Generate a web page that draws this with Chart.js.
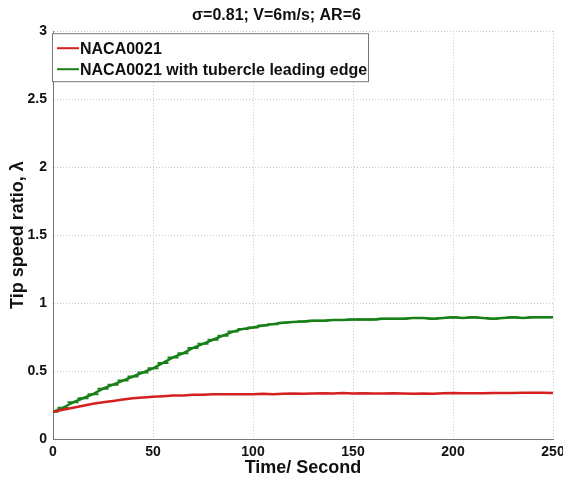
<!DOCTYPE html>
<html><head><meta charset="utf-8">
<script src="https://cdn.jsdelivr.net/npm/chart.js@4"></script>
<style>html,body{margin:0;padding:0;background:#fff}#wrap{width:563px;height:479px}</style>
</head><body><div id="wrap"><canvas id="c" width="563" height="479"></canvas></div>
<script>
const timeSeconds = [0,5,10,15,20,25,30,35,40,45,50,55,60,65,70,75,80,85,90,95,100,105,110,115,120,125,130,135,140,145,150,155,160,165,170,175,180,185,190,195,200,205,210,215,220,225,230,235,240,245,250];
const naca0021 = [0.20,0.215,0.23,0.245,0.26,0.27,0.28,0.29,0.30,0.305,0.31,0.315,0.32,0.32,0.325,0.325,0.33,0.33,0.33,0.33,0.33,0.332,0.33,0.333,0.335,0.333,0.335,0.336,0.335,0.338,0.335,0.336,0.335,0.334,0.336,0.335,0.333,0.335,0.332,0.336,0.338,0.336,0.337,0.336,0.338,0.339,0.338,0.34,0.34,0.34,0.338];
const nacaTubercle = [0.20,0.23,0.27,0.30,0.33,0.37,0.40,0.43,0.46,0.49,0.52,0.56,0.60,0.63,0.67,0.70,0.73,0.76,0.79,0.81,0.82,0.835,0.845,0.855,0.86,0.865,0.87,0.87,0.875,0.875,0.88,0.88,0.88,0.885,0.885,0.885,0.89,0.89,0.885,0.89,0.895,0.89,0.895,0.89,0.885,0.89,0.895,0.89,0.895,0.895,0.895];
const seriesLabels = ["NACA0021","NACA0021 with tubercle leading edge"];
const yTicks = [0,0.5,1,1.5,2,2.5,3];
const xTicks = [0,50,100,150,200,250];

const RED = "rgb(214,32,32)", GREEN = "rgb(24,128,24)";
const boldFont = (s)=>({family:"Arial, 'Liberation Sans', sans-serif", size:s, weight:"bold"});

const legendInside = {
  id:"legendInside",
  afterDraw(chart){
    const ctx = chart.ctx, a = chart.chartArea;
    const x0 = a.left - 1, y0 = a.top + 2, w = 316, h = 48;
    ctx.save();
    ctx.fillStyle = "#fff"; ctx.fillRect(x0,y0,w,h);
    ctx.strokeStyle = "#777"; ctx.lineWidth = 1; ctx.strokeRect(x0+0.5,y0+0.5,w,h);
    ctx.font = "bold 16px Arial, 'Liberation Sans', sans-serif";
    ctx.textBaseline = "middle";
    chart.data.datasets.forEach((ds,i)=>{
      const yy = y0 + 15 + i*21;
      ctx.strokeStyle = ds.borderColor; ctx.lineWidth = 2;
      ctx.beginPath(); ctx.moveTo(x0+5,yy); ctx.lineTo(x0+27,yy); ctx.stroke();
      ctx.fillStyle = "#111"; ctx.fillText(ds.label, x0+28, yy+1);
    });
    ctx.restore();
  }
};

new Chart(document.getElementById("c"), {
  type:"line",
  data:{
    datasets:[
      {label:seriesLabels[0], data:timeSeconds.map((t,i)=>({x:t,y:naca0021[i]})), borderColor:RED, backgroundColor:RED, borderWidth:2.5, pointRadius:0, tension:0},
      {label:seriesLabels[1], data:timeSeconds.map((t,i)=>({x:t,y:nacaTubercle[i]})), borderColor:GREEN, backgroundColor:GREEN, borderWidth:2.5, pointStyle:"line", pointRadius:5.5, pointBorderWidth:2, pointBorderColor:GREEN, tension:0}
    ]
  },
  options:{
    responsive:false, animation:false,
    layout:{padding:{left:0,right:10,top:0,bottom:0}},
    plugins:{
      legend:{display:false}, tooltip:{enabled:false},
      title:{display:true, text:"σ=0.81; V=6m/s; AR=6", color:"#111", font:boldFont(16), padding:{top:6,bottom:6}}
    },
    scales:{
      x:{type:"linear", min:0, max:250,
        afterBuildTicks(s){ s.ticks = xTicks.map(v=>({value:v})); },
        afterFit(s){ s.height = 40; s.paddingLeft = 0; s.paddingRight = 0; },
        ticks:{color:"#111", font:boldFont(14), padding:5, maxRotation:0, callback:(v)=>String(v)},
        grid:{color:"#c8c8c8", lineWidth:1, tickLength:0},
        border:{color:"#777", width:1, dash:[1,2]},
        title:{display:true, text:"Time/ Second", color:"#111", font:boldFont(18), padding:{top:-4,bottom:0}}
      },
      y:{type:"linear", min:0, max:3,
        afterBuildTicks(s){ s.ticks = yTicks.map(v=>({value:v})); },
        afterFit(s){ s.width = 53; },
        ticks:{color:"#111", font:boldFont(14), padding:6, callback:(v)=>String(v)},
        grid:{color:"#c8c8c8", lineWidth:1, tickLength:0},
        border:{color:"#777", width:1, dash:[1,2]},
        title:{display:true, text:"Tip speed ratio, λ", color:"#111", font:boldFont(18), padding:{top:7,bottom:2}}
      }
    }
  },
  plugins:[legendInside]
});
</script></body></html>
